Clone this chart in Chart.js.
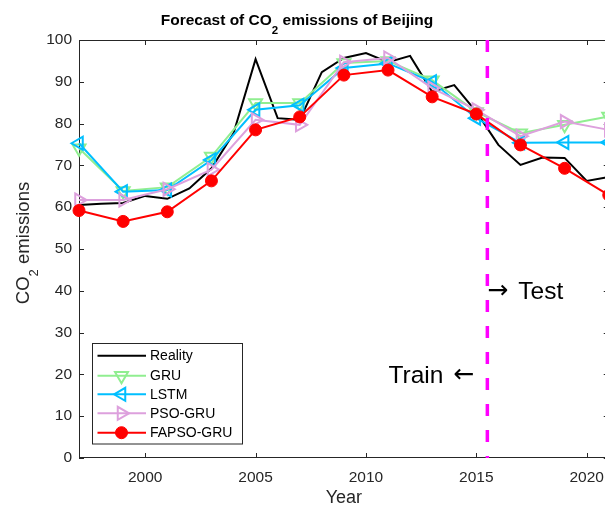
<!DOCTYPE html>
<html>
<head>
<meta charset="utf-8">
<script src="https://cdn.jsdelivr.net/npm/chart.js@4.4.1/dist/chart.umd.min.js"></script>
<style>
  html, body { margin: 0; padding: 0; overflow: hidden; background: #fff; }
  #wrap { width: 614px; height: 511px; }
</style>
</head>
<body>
<div id="wrap"><canvas id="c" width="614" height="511"></canvas></div>
<script>
// ---- data ----
const realityYears = [1997,1998,1999,2000,2001,2002,2003,2004,2005,2006,2007,2008,2009,2010,2011,2012,2013,2014,2015,2016,2017,2018,2019,2020,2021];
const realityValues = [60.5,60.8,61.0,62.7,62.0,64.5,69.3,77.7,95.4,81.3,80.9,92.3,95.7,96.9,94.7,96.2,87.6,89.2,82.8,74.9,70.1,71.9,71.8,66.3,67.2];
const predYears = [1997,1999,2001,2003,2005,2007,2009,2011,2013,2015,2017,2019,2021];
const gruValues = [74.1,63.9,64.8,72.1,84.9,84.9,94.5,95.0,90.4,82.8,77.7,79.7,81.7];
const lstmValues = [75.3,63.7,64.1,71.3,83.3,84.4,93.3,94.4,90.0,81.3,75.4,75.5,75.5];
const psoGruValues = [61.7,61.7,64.3,69.0,80.9,79.7,94.7,95.7,88.5,83.3,77.0,80.5,78.5];
const fapsoGruValues = [59.2,56.6,58.9,66.3,78.5,81.6,91.6,92.8,86.4,82.3,74.9,69.3,62.9];
const seriesNames = ['Reality','GRU','LSTM','PSO-GRU','FAPSO-GRU'];
const xTickValues = [2000,2005,2010,2015,2020];
const yTickValues = [0,10,20,30,40,50,60,70,80,90,100];
const splitYear = 2015.5;
const testLabelValue = 40;
const trainLabelValue = 20;

const FONT = '"Liberation Sans", Arial, sans-serif';
const AXC = '#262626';

function pts(xs, ys) { return xs.map((x, i) => ({ x: x, y: ys[i] })); }

const datasets = [
  { label: seriesNames[0], data: pts(realityYears, realityValues), borderColor: '#000000', borderWidth: 2, pointRadius: 0, order: 5, clip: false },
  { label: seriesNames[1], data: pts(predYears, gruValues), borderColor: '#90EE90', borderWidth: 2,
    pointStyle: 'triangle', rotation: 180, pointRadius: 7.5, pointBorderWidth: 2, pointBackgroundColor: 'rgba(0,0,0,0)', pointBorderColor: '#90EE90', order: 4, clip: false },
  { label: seriesNames[2], data: pts(predYears, lstmValues), borderColor: '#00BFFF', borderWidth: 2,
    pointStyle: 'triangle', rotation: 270, pointRadius: 7.5, pointBorderWidth: 2, pointBackgroundColor: 'rgba(0,0,0,0)', pointBorderColor: '#00BFFF', order: 3, clip: false },
  { label: seriesNames[3], data: pts(predYears, psoGruValues), borderColor: '#DDA0DD', borderWidth: 2,
    pointStyle: 'triangle', rotation: 90, pointRadius: 7.5, pointBorderWidth: 2, pointBackgroundColor: 'rgba(0,0,0,0)', pointBorderColor: '#DDA0DD', order: 2, clip: false },
  { label: seriesNames[4], data: pts(predYears, fapsoGruValues), borderColor: '#FF0000', borderWidth: 2,
    pointStyle: 'circle', pointRadius: 6, pointBorderWidth: 1, pointBackgroundColor: '#FF0000', pointBorderColor: '#FF0000', order: 1, clip: false }
];

const legendRowsY = [355.7, 375.7, 394.3, 413.3, 432.7];

const decor = {
  id: 'decor',
  beforeDatasetsDraw(chart) {
    const ctx = chart.ctx, a = chart.chartArea, xs = chart.scales.x, ys = chart.scales.y;
    ctx.save();
    ctx.strokeStyle = AXC; ctx.lineWidth = 1;
    ctx.strokeRect(a.left + 0.5, a.top + 0.5, a.right - a.left - 1, a.bottom - a.top - 1);
    const tl = 5;
    ctx.beginPath();
    xTickValues.forEach(v => {
      const px = Math.round(xs.getPixelForValue(v)) + 0.5;
      ctx.moveTo(px, a.bottom); ctx.lineTo(px, a.bottom - tl);
      ctx.moveTo(px, a.top); ctx.lineTo(px, a.top + tl);
    });
    yTickValues.forEach(v => {
      const py = Math.round(ys.getPixelForValue(v)) + 0.5;
      ctx.moveTo(a.left, py); ctx.lineTo(a.left + tl, py);
      ctx.moveTo(a.right, py); ctx.lineTo(a.right - tl, py);
    });
    ctx.stroke();
    ctx.restore();
  },
  afterDatasetsDraw(chart) {
    const ctx = chart.ctx, a = chart.chartArea, xs = chart.scales.x;
    const px = xs.getPixelForValue(splitYear);
    ctx.save();
    ctx.strokeStyle = '#FF00FF'; ctx.lineWidth = 3.5;
    ctx.setLineDash([12, 14]);
    ctx.beginPath(); ctx.moveTo(px, a.top); ctx.lineTo(px, a.bottom); ctx.stroke();
    ctx.restore();
  },
  afterDraw(chart) {
    const ctx = chart.ctx, a = chart.chartArea, xs = chart.scales.x, ys = chart.scales.y;
    ctx.save();
    // title
    ctx.fillStyle = '#000';
    ctx.textBaseline = 'alphabetic';
    ctx.textAlign = 'left';
    const tf = 'bold 15.5px ' + FONT, sf = 'bold 11.5px ' + FONT;
    const t1 = 'Forecast of CO', t2 = '2', t3 = ' emissions of Beijing';
    ctx.font = tf; const w1 = ctx.measureText(t1).width, w3 = ctx.measureText(t3).width;
    ctx.font = sf; const w2 = ctx.measureText(t2).width;
    let tx = 297 - (w1 + w2 + w3) / 2;
    ctx.font = tf; ctx.fillText(t1, tx, 25);
    ctx.font = sf; ctx.fillText(t2, tx + w1, 34);
    ctx.font = tf; ctx.fillText(t3, tx + w1 + w2, 25);

    // y label
    ctx.save();
    ctx.translate(28.5, 243);
    ctx.rotate(-Math.PI / 2);
    ctx.fillStyle = AXC;
    const lf = '18.5px ' + FONT, lsf = '13px ' + FONT;
    const y1 = 'CO', y2 = '2', y3 = ' emissions';
    ctx.font = lf; const a1 = ctx.measureText(y1).width, a3 = ctx.measureText(y3).width;
    ctx.font = lsf; const a2 = ctx.measureText(y2).width;
    let lx = -(a1 + a2 + a3) / 2;
    ctx.font = lf; ctx.fillText(y1, lx, 0);
    ctx.font = lsf; ctx.fillText(y2, lx + a1, 9);
    ctx.font = lf; ctx.fillText(y3, lx + a1 + a2, 0);
    ctx.restore();

    // x label
    ctx.fillStyle = AXC;
    ctx.font = '18px ' + FONT;
    ctx.textAlign = 'center';
    ctx.textBaseline = 'middle';
    ctx.fillText('Year', (a.left + a.right) / 2, 498);

    // Train/Test annotations
    const sx = xs.getPixelForValue(splitYear);
    ctx.fillStyle = '#000';
    ctx.textBaseline = 'alphabetic';
    const ty = ys.getPixelForValue(testLabelValue);
    const ry = ys.getPixelForValue(trainLabelValue);
    ctx.font = '24.5px ' + FONT;
    ctx.textAlign = 'left';
    ctx.fillText('Test', sx + 31, ty + 8.5);
    ctx.textAlign = 'right';
    ctx.fillText('Train', sx - 44, ry + 8.5);
    ctx.font = '25px "DejaVu Sans ExtraLight", "DejaVu Sans", sans-serif';
    ctx.textAlign = 'left';
    ctx.textBaseline = 'middle';
    ctx.fillText('→', sx, ty + 1);
    ctx.textAlign = 'right';
    ctx.fillText('←', sx - 13, ry + 1);

    // legend box
    const L = { x: 92.5, y: 343.5, w: 150, h: 100.5 };
    ctx.fillStyle = '#fff';
    ctx.fillRect(L.x, L.y, L.w, L.h);
    ctx.strokeStyle = AXC; ctx.lineWidth = 1;
    ctx.strokeRect(L.x, L.y, L.w, L.h);
    ctx.font = '14px ' + FONT;
    ctx.textAlign = 'left';
    ctx.textBaseline = 'middle';
    chart.data.datasets.forEach((ds, i) => {
      const yy = legendRowsY[i];
      ctx.strokeStyle = ds.borderColor; ctx.lineWidth = 2;
      ctx.beginPath(); ctx.moveTo(97.5, yy); ctx.lineTo(146, yy); ctx.stroke();
      if (ds.pointRadius > 0) {
        ctx.save();
        ctx.fillStyle = ds.pointBackgroundColor;
        ctx.strokeStyle = ds.pointBorderColor;
        ctx.lineWidth = ds.pointBorderWidth;
        Chart.helpers.drawPoint(ctx, { pointStyle: ds.pointStyle, rotation: ds.rotation || 0, radius: ds.pointRadius, borderWidth: ds.pointBorderWidth }, 121.5, yy);
        ctx.restore();
      }
      ctx.fillStyle = '#000';
      ctx.fillText(ds.label, 150, yy + 0.5);
    });
    ctx.restore();
  }
};

new Chart(document.getElementById('c'), {
  type: 'line',
  data: { datasets: datasets },
  options: {
    responsive: false,
    animation: false,
    events: [],
    layout: { autoPadding: false, padding: { top: 40, right: 2, left: 0, bottom: 0 } },
    plugins: { legend: { display: false }, title: { display: false }, tooltip: { enabled: false } },
    elements: { line: { tension: 0 } },
    scales: {
      x: {
        type: 'linear', min: 1997, max: 2021,
        afterBuildTicks: s => { s.ticks = xTickValues.map(v => ({ value: v })); },
        afterFit: s => { s.height = 53; },
        grid: { display: false, drawTicks: false },
        border: { display: false },
        ticks: { color: AXC, font: { family: FONT, size: 15.5 }, padding: 10, maxRotation: 0, autoSkip: false, callback: v => String(v) }
      },
      y: {
        type: 'linear', min: 0, max: 100,
        afterBuildTicks: s => { s.ticks = yTickValues.map(v => ({ value: v })); },
        afterFit: s => { s.width = 79; },
        grid: { display: false, drawTicks: false },
        border: { display: false },
        ticks: { color: AXC, font: { family: FONT, size: 15.5 }, padding: 7, autoSkip: false }
      }
    }
  },
  plugins: [decor]
});
</script>
</body>
</html>
